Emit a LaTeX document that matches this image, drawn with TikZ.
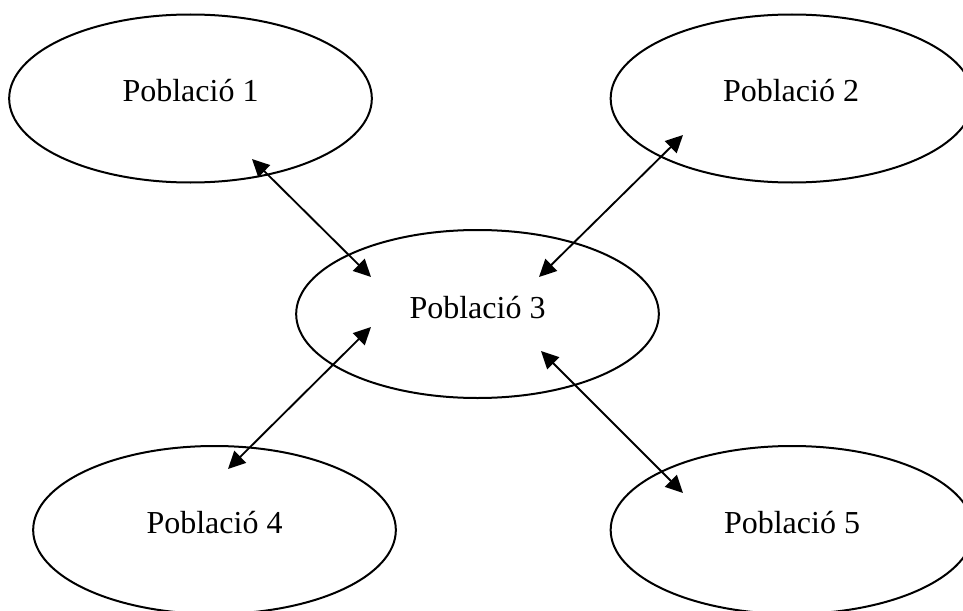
\documentclass[tikz,border=0pt]{standalone}
\usepackage{fontspec}
\setmainfont{Liberation Serif}
\usetikzlibrary{shapes.geometric,arrows.meta,calc}
\begin{document}
\begin{tikzpicture}[x=0.75pt,y=-0.75pt,
  pop/.style={draw=black,line width=1.5pt,ellipse,minimum width=272pt,minimum height=126pt,inner sep=0pt},
  lbl/.style={anchor=base,inner sep=0pt,font=\fontsize{24pt}{28pt}\selectfont},
  link/.style={line width=1.4pt,{Triangle[length=13pt,width=12.5pt]}-{Triangle[length=13pt,width=12.5pt]}}]
\useasboundingbox (0,0) rectangle (963,610);
\clip (0,0) rectangle (963,610);
\node[pop] (e1) at (190.5,98.5) {};
\node[pop] (e2) at (792,98.5) {};
\node[pop] (e3) at (477.5,314) {};
\node[pop] (e4) at (214.5,530) {};
\node[pop] (e5) at (792,530) {};
\node[lbl] (t1) at ($(e1.center)+(0,3.5)$) {Població 1};
\node[lbl] (t2) at ($(e2.center)+(-1,3.5)$) {Població 2};
\node[lbl] (t3) at ($(e3.center)+(0,4)$) {Població 3};
\node[lbl] (t4) at ($(e4.center)+(0,3.5)$) {Població 4};
\node[lbl] (t5) at ($(e5.center)+(0,3.5)$) {Població 5};
\coordinate (a1) at (252,159);
\coordinate (b1) at (371,277);
\coordinate (a2) at (683,135);
\coordinate (b2) at (539,277);
\coordinate (a3) at (371,327);
\coordinate (b3) at (228,469);
\coordinate (a4) at (541,351);
\coordinate (b4) at (683,493);
\draw[link] (a1) -- (b1);
\draw[link] (a2) -- (b2);
\draw[link] (a3) -- (b3);
\draw[link] (a4) -- (b4);
\end{tikzpicture}
\end{document}
